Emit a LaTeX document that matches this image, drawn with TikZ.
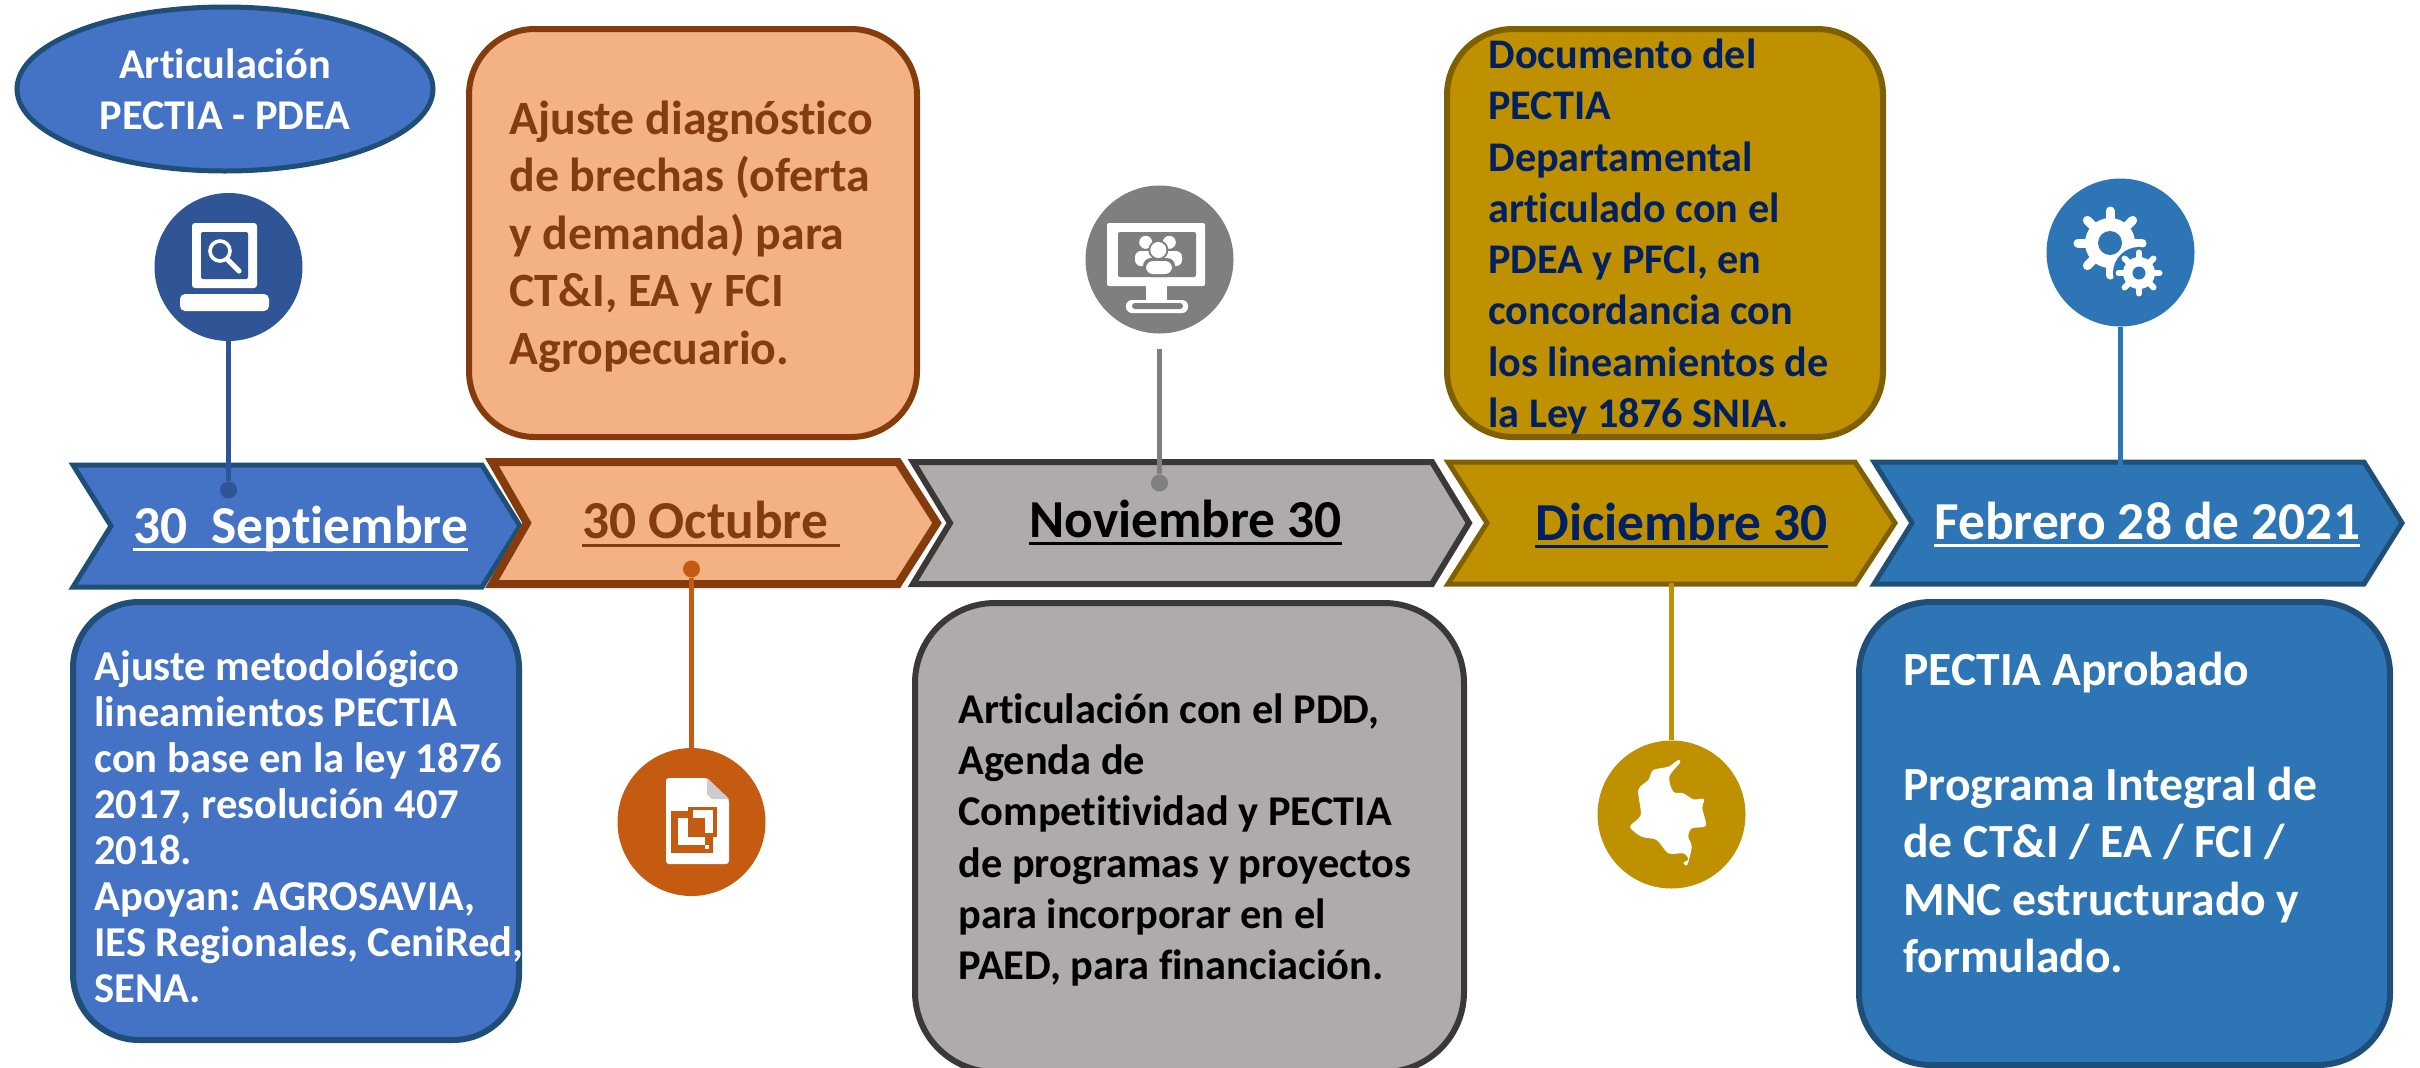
\documentclass[tikz,border=0pt]{standalone}
\usepackage{fontspec}
\setmainfont{Carlito}[Ligatures=CommonOff]
\definecolor{bluefill}{HTML}{4472C4}
\definecolor{blueline}{HTML}{1F4E79}
\definecolor{bluedark}{HTML}{2F5597}
\definecolor{orfill}{HTML}{F4B183}
\definecolor{orline}{HTML}{843C0C}
\definecolor{ordark}{HTML}{C55A11}
\definecolor{grfill}{HTML}{AFABAB}
\definecolor{grline}{HTML}{3B3838}
\definecolor{grdark}{HTML}{7F7F7F}
\definecolor{gofill}{HTML}{BF9000}
\definecolor{goline}{HTML}{7F6000}
\definecolor{navy}{HTML}{002060}
\definecolor{stfill}{HTML}{2E75B6}
\newcommand\ulined[3]{\setbox0\hbox{#1}\rlap{\rule[-#2]{\wd0}{#3}}\box0}
\newcommand\topfix{\rule{0pt}{25pt}}
\tikzset{
  x=0.5pt,y=-0.5pt,
  chevbox/.style={line width=#1,line join=miter,miter limit=10},
  roundbox/.style={line width=3pt},
  iconc/.style={circle,inner sep=0pt,minimum size=74pt,fill=#1},
  dotc/.style={circle,inner sep=0pt,minimum size=8.5pt,fill=#1},
  conn/.style={line width=2.5pt,draw=#1},
  boxtext/.style={anchor=north west,inner sep=0pt,align=left,text=#1},
  chevtext/.style={anchor=base west,inner sep=0pt,text=#1,font=\bfseries\fontsize{26.7pt}{30pt}\selectfont},
}
\newcommand\gearshape[4]{% x y bodyr width
  \fill[white] (#1,#2) circle[radius=#3];
  \foreach \a in {0,45,...,315}
    \draw[white,line width=#4,line cap=round] (#1,#2) ++(\a:#3) -- ++(\a:0.28*#3);
}
\begin{document}
\begin{tikzpicture}
\useasboundingbox (0,0) rectangle (2420,1067);
\clip (0,0) rectangle (2420,1067);

% chevrons
\draw[chevbox=2.5pt,draw=blueline,fill=bluefill] (73,465)--(482,465)--(520,526)--(482,587)--(73,587)--(111,526)--cycle;
\draw[chevbox=4pt,draw=orline,fill=orfill] (492,462)--(898,462)--(937,523)--(898,584)--(492,584)--(527,523)--cycle;
\draw[chevbox=3pt,draw=grline,fill=grfill] (913,462)--(1432,462)--(1469,523)--(1432,584)--(913,584)--(950,523)--cycle;
\draw[chevbox=2.5pt,draw=goline,fill=gofill] (1448,462)--(1855,462)--(1895,523)--(1855,584)--(1448,584)--(1487,523)--cycle;
\draw[chevbox=2.5pt,draw=blueline,fill=stfill] (1874,462)--(2364,462)--(2402,523)--(2364,584)--(1874,584)--(1912,523)--cycle;

% chevron labels
\node[chevtext=white] (l1) at (133,543) {\ulined{30\ \ Septiembre}{4pt}{1.4pt}};
\node[chevtext=orline] (l2) at (582,538) {\ulined{30 Octubre\ }{4.4pt}{1.4pt}};
\node[chevtext=black] (l3) at (1029,537) {\ulined{Noviembre 30}{4pt}{1.6pt}};
\node[chevtext=navy] (l4) at (1535,540) {\ulined{Diciembre 30}{4pt}{1.6pt}};
\node[chevtext=white] (l5) at (1934,539) {\ulined{Febrero 28 de 2021}{4pt}{1.4pt}};

% ellipse
\draw[line width=2.5pt,draw=blueline,fill=bluefill] (225,89) ellipse[x radius=208,y radius=82];
\node[anchor=north,inner sep=0pt,align=center,text=white,font=\bfseries\fontsize{21.2pt}{25.5pt}\selectfont] (art) at (225,28) {\topfix Articulación\\PECTIA - PDEA};

% rounded boxes
\draw[roundbox,draw=orline,fill=orfill,rounded corners=33pt] (469,29) rectangle (917,437);
\draw[roundbox,draw=goline,fill=gofill,rounded corners=33pt] (1447,29) rectangle (1883,437);
\draw[roundbox,draw=blueline,fill=bluefill,rounded corners=33pt] (73,602) rectangle (519,1040);
\draw[roundbox,draw=grline,fill=grfill,rounded corners=40pt] (915,603) rectangle (1464,1072);
\draw[roundbox,draw=blueline,fill=stfill,rounded corners=36pt] (1859,602) rectangle (2390,1065);

% box text
\node[boxtext=orline,font=\bfseries\fontsize{23.9pt}{28.7pt}\selectfont] (t2) at (509,84) {\topfix Ajuste diagnóstico\\de brechas (oferta\\y demanda) para\\CT\&I, EA y FCI\\Agropecuario.};
\node[boxtext=navy,font=\bfseries\fontsize{21.1pt}{25.65pt}\selectfont] (t4) at (1488,18) {\topfix Documento del\\PECTIA\\Departamental\\articulado con el\\PDEA y PFCI, en\\concordancia con\\los lineamientos de\\la Ley 1876 SNIA.};
\node[boxtext=white,font=\bfseries\fontsize{21.3pt}{23pt}\selectfont] (t1) at (94,630) {\topfix Ajuste metodológico\\lineamientos PECTIA\\con base en la ley 1876\\2017, resolución 407\\2018.\\Apoyan: AGROSAVIA,\\IES Regionales, CeniRed,\\SENA.};
\node[boxtext=black,font=\bfseries\fontsize{21.2pt}{25.6pt}\selectfont] (t3) at (958,673) {\topfix Articulación con el PDD,\\Agenda de\\Competitividad y PECTIA\\de programas y proyectos\\para incorporar en el\\PAED, para financiación.};
\node[boxtext=white,font=\bfseries\fontsize{23.8pt}{28.75pt}\selectfont] (t5) at (1903,635) {\topfix PECTIA Aprobado\\[28.75pt]Programa Integral de\\de CT\&I / EA / FCI /\\MNC estructurado y\\formulado.};

% icon circles and dots
\node[iconc=bluedark] (c1) at (228.5,267) {};
\node[iconc=ordark] (c2) at (691.5,822) {};
\node[iconc=grdark] (c3) at (1159.5,259.5) {};
\node[iconc=gofill] (c4) at (1671.5,814.5) {};
\node[iconc=stfill] (c5) at (2120.5,252.5) {};
\node[dotc=bluedark] (d1) at (228.5,490) {};
\node[dotc=ordark] (d2) at (691.5,569) {};
\node[dotc=grdark] (d3) at (1159.5,483) {};
\coordinate (n3) at (1159.5,349);
\coordinate (e4) at (1671.5,583);
\coordinate (e5) at (2120.5,466);

% connectors
\draw[conn=bluedark] (c1) -- (d1);
\draw[conn=ordark] (d2) -- (c2);
\draw[conn=grdark] (n3) -- (d3);
\draw[conn=gofill] (e4) -- (c4);
\draw[conn=stfill] (c5) -- (e5);

% icon 1: screen with magnifier
\fill[white,rounded corners=1.5pt] (192,223) rectangle (257,288);
\fill[bluedark,rounded corners=1pt] (201,232) rectangle (248,279);
\draw[white,line width=1.8pt] (220,251) circle[radius=10];
\draw[white,line width=2.6pt,line cap=round] (227,259) -- (239,271);
\fill[white,rounded corners=2.5pt] (180,294) rectangle (269,311);

% icon 2: document
\fill[white,rounded corners=1.5pt] (666,778) -- (707,778) -- (729,799) -- (729,864) -- (666,864) -- cycle;
\fill[black!20] (707,778) -- (729,799) -- (712,799) -- (707,794) -- cycle;
\fill[ordark] (671,811) rectangle (713,853);
\fill[white] (678,818) rectangle (705,845);
\fill[ordark] (688,807) rectangle (717,837);
\fill[white] (693,810) rectangle (713,833);
\fill[ordark] (688,818) rectangle (705,836);
\fill[white] (705,845) rectangle (709,849);
\fill[white] (713,837) rectangle (717,842);

% icon 3: monitor with people
\fill[white,rounded corners=1pt] (1107,223) rectangle (1205,286);
\fill[white] (1146,286) rectangle (1167,302);
\fill[white,rounded corners=3pt] (1126,300) rectangle (1188,313);
\fill[grdark,rounded corners=1pt] (1118,232) rectangle (1196,277);
\fill[grdark,rounded corners=1.5pt] (1132,303) rectangle (1183,309);
\fill[white] (1145.7,242.3) circle[radius=6.5];
\fill[white] (1169.3,242.3) circle[radius=6.5];
\fill[white,rounded corners=3pt] (1135,251) rectangle (1182,266);
\fill[grdark] (1158.3,250) circle[radius=10];
\fill[grdark,rounded corners=4pt] (1143,258) rectangle (1175,277);
\fill[white] (1158.3,250) circle[radius=8];
\fill[white,rounded corners=3.5pt] (1146,261) rectangle (1172,274);

% icon 4: map
\fill[white] plot[smooth cycle,tension=0.5] coordinates {(1678.3,760) (1668.3,766.7) (1653.3,770) (1648.3,780) (1638.3,790) (1640.7,815) (1630,826.7) (1641.7,836.7) (1656.7,840) (1668.3,853.3) (1683.3,853.3) (1688.3,859.3) (1683.3,862.7) (1687.3,864.7) (1691.7,846.7) (1688.3,836.7) (1691.7,828.3) (1705.7,825.7) (1702.3,808.3) (1704,799) (1693.3,799.3) (1683.3,793.3) (1673.3,791.7) (1669.3,776.7) (1680,762.7)};

% icon 5: gears
\gearshape{2110}{243}{25}{4.5pt}
\fill[stfill] (2110,243) circle[radius=12];
\fill[stfill] (2139,273) circle[radius=26];
\gearshape{2139}{273}{16}{3pt}
\fill[stfill] (2139,273) circle[radius=6.5];
\end{tikzpicture}
\end{document}
